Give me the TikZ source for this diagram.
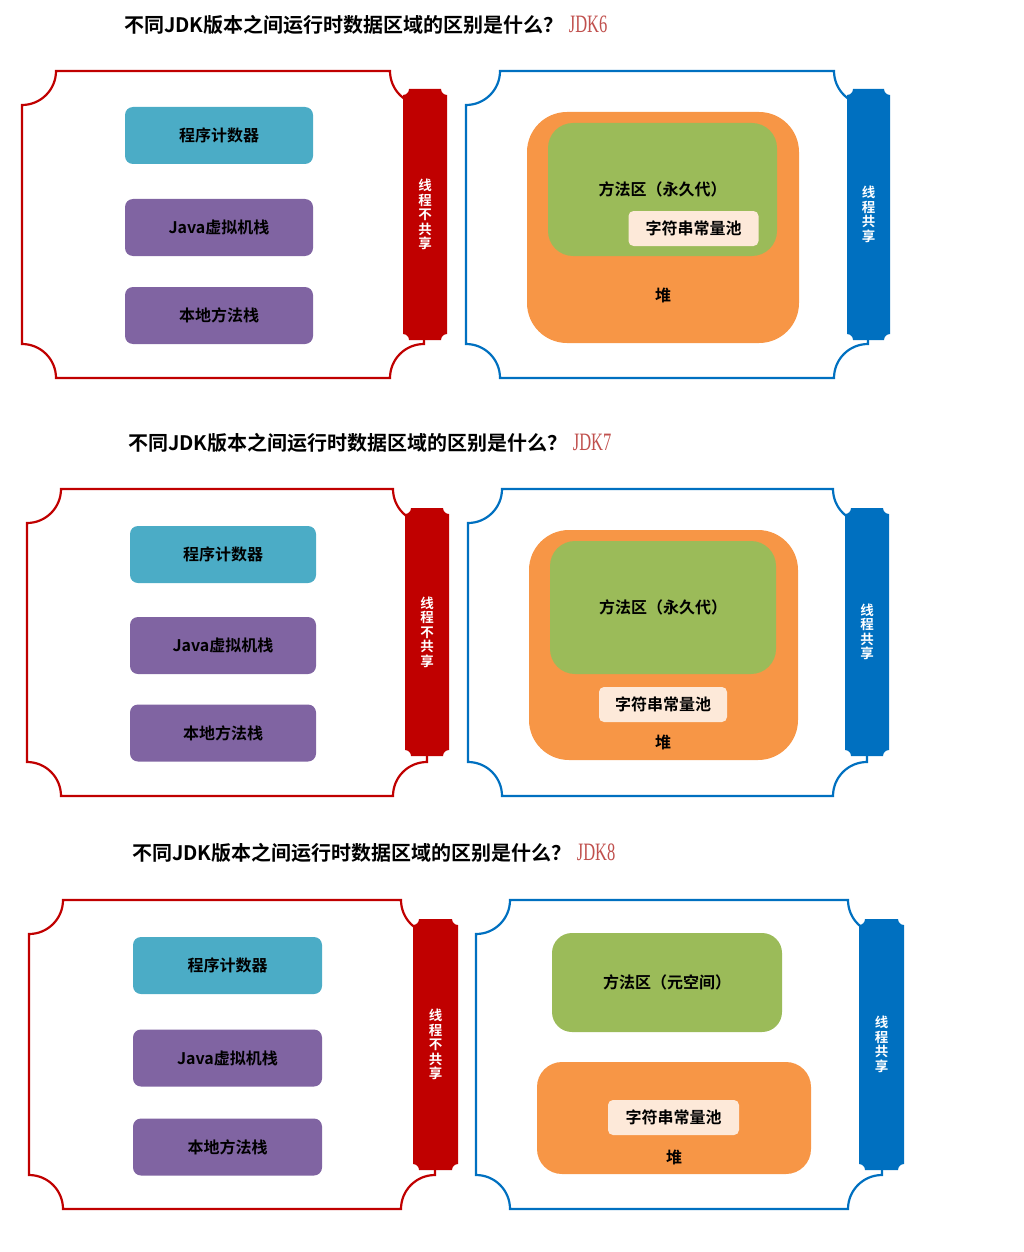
\documentclass[tikz,border=0pt]{standalone}
\usepackage{fontspec}
\usepackage{xcolor}
\usepackage{tikz}
\usetikzlibrary{positioning}

\newfontfamily\cjkbold{Noto Sans CJK SC Bold}
\newfontfamily\jdkfont{Liberation Serif}

\definecolor{pcteal}{HTML}{4BACC6}
\definecolor{stackpurple}{HTML}{8064A2}
\definecolor{methodgreen}{HTML}{9BBB59}
\definecolor{heaporange}{HTML}{F79646}
\definecolor{poolpeach}{HTML}{FDE9D9}
\definecolor{privred}{HTML}{C00000}
\definecolor{sharedblue}{HTML}{0070C0}
\definecolor{jdkred}{HTML}{C0504D}

% ticket shape with concave corners: style, left, top, right, bottom, radius
\newcommand{\ticket}[6]{%
  \path[#1] (#2+#6,#3) -- (#4-#6,#3) arc[start angle=180, end angle=90, radius=#6]
    -- (#4,#5-#6) arc[start angle=270, end angle=180, radius=#6]
    -- (#2+#6,#5) arc[start angle=360, end angle=270, radius=#6]
    -- (#2,#3+#6) arc[start angle=90, end angle=0, radius=#6] -- cycle;}

\begin{document}
\begin{tikzpicture}[
    x=1pt, y=-1pt,
    title/.style={anchor=west, inner sep=0, font=\cjkbold\fontsize{20}{22}\selectfont},
    jdk/.style={inner sep=0, text=jdkred, xscale=0.66, font=\jdkfont\fontsize{25}{25}\selectfont},
    privframe/.style={draw=privred, line width=2.2pt},
    sharedframe/.style={draw=sharedblue, line width=2.2pt},
    box/.style={rounded corners=8pt, minimum width=188pt, minimum height=57pt, inner sep=0,
                font=\cjkbold\fontsize{16}{18}\selectfont},
    heapbox/.style={fill=heaporange, inner sep=0},
    methodbox/.style={fill=methodgreen, rounded corners=25pt, inner sep=0,
                font=\cjkbold\fontsize{16}{18}\selectfont},
    poolbox/.style={fill=poolpeach, rounded corners=5pt, minimum width=130pt, minimum height=35pt,
                inner sep=0, font=\cjkbold\fontsize{16}{18}\selectfont},
    lbl/.style={inner sep=0, font=\cjkbold\fontsize{16}{18}\selectfont},
    bandtext/.style={inner sep=0, text=white, align=center, font=\cjkbold\fontsize{13.5}{14.5}\selectfont}
]
\useasboundingbox (0,0) rectangle (1023,1252);

\node[title] (title6) at (124,25) {不同JDK版本之间运行时数据区域的区别是什么？};
\node[jdk, right=5pt of title6.base east, anchor=base west] (jdk6) {JDK6};

\ticket{privframe}{22}{71}{424}{378}{34}
\ticket{fill=privred}{403}{89}{447}{340}{6}
\node[bandtext] (band6a) at (425,214.5) {线\\程\\不\\共\\享};
\node[box, fill=pcteal] (pc6) at (219,135.5) {程序计数器};
\node[box, fill=stackpurple] (jvm6) at (219,227.5) {Java虚拟机栈};
\node[box, fill=stackpurple] (native6) at (219,315.5) {本地方法栈};

\ticket{sharedframe}{466}{71}{868}{378}{34}
\ticket{fill=sharedblue}{847}{89}{890}{340}{6}
\node[bandtext] (band6b) at (868.5,214.5) {线\\程\\共\\享};
\node[heapbox, rounded corners=40pt, minimum width=272pt, minimum height=231pt] (heap6) at (663,227.5) {};
\node[methodbox, minimum width=229pt, minimum height=133pt] (method6) at (662.5,189.5) {方法区（永久代）};
\node[poolbox] (pool6) at (693.5,228.5) {字符串常量池};
\node[lbl] (heaplbl6) at (663,295) {堆};

\node[title] (title7) at (128,443) {不同JDK版本之间运行时数据区域的区别是什么？};
\node[jdk, right=5pt of title7.base east, anchor=base west] (jdk7) {JDK7};

\ticket{privframe}{27}{489}{427}{796}{34}
\ticket{fill=privred}{405}{508}{449}{756}{6}
\node[bandtext] (band7a) at (427,632) {线\\程\\不\\共\\享};
\node[box, fill=pcteal, minimum width=186pt] (pc7) at (223,554.5) {程序计数器};
\node[box, fill=stackpurple, minimum width=186pt] (jvm7) at (223,645.5) {Java虚拟机栈};
\node[box, fill=stackpurple, minimum width=186pt] (native7) at (223,733) {本地方法栈};

\ticket{sharedframe}{468}{489}{867}{796}{34}
\ticket{fill=sharedblue}{845}{508}{889}{756}{6}
\node[bandtext] (band7b) at (867,632) {线\\程\\共\\享};
\node[heapbox, rounded corners=40pt, minimum width=269pt, minimum height=230pt] (heap7) at (663.5,645) {};
\node[methodbox, minimum width=226pt, minimum height=133pt] (method7) at (663,607.5) {方法区（永久代）};
\node[poolbox, minimum width=128pt] (pool7) at (663,704.5) {字符串常量池};
\node[lbl] (heaplbl7) at (663,742) {堆};

\node[title] (title8) at (132,853) {不同JDK版本之间运行时数据区域的区别是什么？};
\node[jdk, right=5pt of title8.base east, anchor=base west] (jdk8) {JDK8};

\ticket{privframe}{29}{900}{435}{1209}{34}
\ticket{fill=privred}{413}{919}{458}{1170}{6}
\node[bandtext] (band8a) at (435.5,1044.5) {线\\程\\不\\共\\享};
\node[box, fill=pcteal, minimum width=189pt] (pc8) at (227.5,965.5) {程序计数器};
\node[box, fill=stackpurple, minimum width=189pt] (jvm8) at (227.5,1058) {Java虚拟机栈};
\node[box, fill=stackpurple, minimum width=189pt] (native8) at (227.5,1147) {本地方法栈};

\ticket{sharedframe}{476}{900}{882}{1209}{34}
\ticket{fill=sharedblue}{859}{919}{904}{1170}{6}
\node[bandtext] (band8b) at (881.5,1044.5) {线\\程\\共\\享};
\node[methodbox, rounded corners=20pt, minimum width=230pt, minimum height=99pt] (method8) at (667,982.5) {方法区（元空间）};
\node[heapbox, rounded corners=25pt, minimum width=274pt, minimum height=112pt] (heap8) at (674,1118) {};
\node[poolbox, minimum width=131pt] (pool8) at (673.5,1117.5) {字符串常量池};
\node[lbl] (heaplbl8) at (674,1157) {堆};
\end{tikzpicture}
\end{document}
